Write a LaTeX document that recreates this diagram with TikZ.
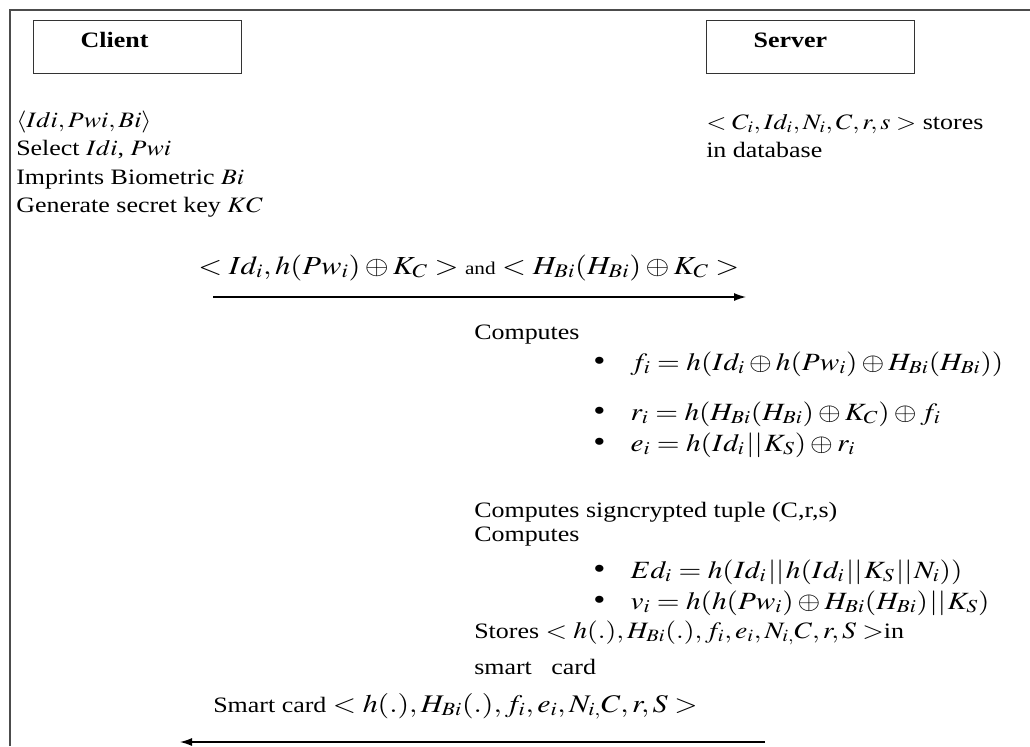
\documentclass[tikz,border=0pt]{standalone}
\usepackage{mathptmx}
\usepackage{fontspec}
\setmainfont{Liberation Serif}
\usepackage{graphicx}
\usetikzlibrary{arrows.meta}

\newcommand{\basefont}{\fontsize{16.5}{20}\selectfont}
\newcommand{\wider}[1]{\scalebox{1.18}[1]{#1}}
\newcommand{\bigmath}[2]{{\fontsize{#1}{20}\selectfont$#2$}}
\newcommand{\itm}[1]{\wider{{\fontsize{22}{20}\selectfont\textbullet}\hspace{16pt}\bigmath{18.6}{#1}}}
\newcommand{\cat}{\mkern1mu||\mkern1mu}

\tikzstyle{party} = [
    rectangle,
    draw = black!80,
    line width = 1pt,
    anchor = north west,
    align = left,
    text width = 85.5pt,
    inner xsep = 35.25pt,
    inner ysep = 0pt,
    text height = 20.25pt,
    text depth = 19.5pt
]
\tikzstyle{txt} = [
    anchor = base west,
    inner sep = 0pt
]
\tikzstyle{msg} = [
    -{Latex[length=9pt, width=6pt]},
    line width = 0.9pt
]

\begin{document}
\begin{tikzpicture}[x=0.75pt, y=-0.75pt, font=\basefont]

        \useasboundingbox (0,0) rectangle (1030,746);

        %% Frame
        \draw [line width=1.3pt, black!70] (10,746) -- (10,10) -- (1030,10);

        %% Parties
        \node (client) [party] at (33,20)  {\wider{\textbf{Client}}};
        \node (server) [party] at (706,20) {\wider{\textbf{Server}}};

        %% Client side
        \node (reg)    [txt] at (16,127) {\wider{$\langle Idi,Pwi,Bi\rangle$}};
        \node (select) [txt] at (16,155) {\wider{Select $Idi$, $Pwi$}};
        \node (bio)    [txt] at (16,184) {\wider{Imprints Biometric $Bi$}};
        \node (key)    [txt] at (16,212) {\wider{Generate secret key $KC$}};

        %% Server side
        \node (db)     [txt] at (706,129) {\wider{$<C_i,Id_i,N_i,C,r,s>$ stores}};
        \node (db2)    [txt] at (706,157) {\wider{in database}};

        %% Registration request
        \node (req) [txt] at (198,274) {\wider{\bigmath{19.5}{<Id_i,h(Pw_i)\oplus K_C>} {\fontsize{13.5}{16}\selectfont and} \bigmath{19.5}{<H_{Bi}(H_{Bi})\oplus K_C>}}};
        \coordinate (c1) at (213,297);
        \coordinate (s1) at (746,297);
        \draw [msg] (c1) -- (s1);

        %% Server computations
        \node (comp1) [txt] at (474,339) {\wider{Computes}};
        \node (fi)    [txt] at (593,370) {\itm{f_i = h(Id_i \oplus h(Pw_i) \oplus H_{Bi}(H_{Bi}))}};
        \node (ri)    [txt] at (593,420) {\itm{r_i = h(H_{Bi}(H_{Bi}) \oplus K_C) \oplus f_i}};
        \node (ei)    [txt] at (593,451) {\itm{e_i = h(Id_i \cat K_S) \oplus r_i}};
        \node (sign)  [txt] at (474,517) {\wider{Computes signcrypted tuple (C,r,s)}};
        \node (comp2) [txt] at (474,541) {\wider{Computes}};
        \node (edi)   [txt] at (593,578) {\itm{Ed_i = h(Id_i \cat h(Id_i \cat K_S \cat N_i))}};
        \node (vi)    [txt] at (593,609) {\itm{v_i = h(h(Pw_i) \oplus H_{Bi}(H_{Bi}) \cat K_S)}};
        \node (store) [txt] at (474,638) {\wider{Stores \bigmath{17.6}{<h(.),H_{Bi}(.),f_i,e_i,N_{i,}C,r,S>}in}};
        \node (card)  [txt] at (474,674) {\wider{smart\ \ \ card}};

        %% Smart card issue
        \node (issue) [txt] at (213,712) {\wider{Smart card \bigmath{19}{<h(.),H_{Bi}(.),f_i,e_i,N_{i,}C,r,S>}}};
        \coordinate (s2) at (765,742);
        \coordinate (c2) at (180,742);
        \draw [msg] (s2) -- (c2);

\end{tikzpicture}
\end{document}
